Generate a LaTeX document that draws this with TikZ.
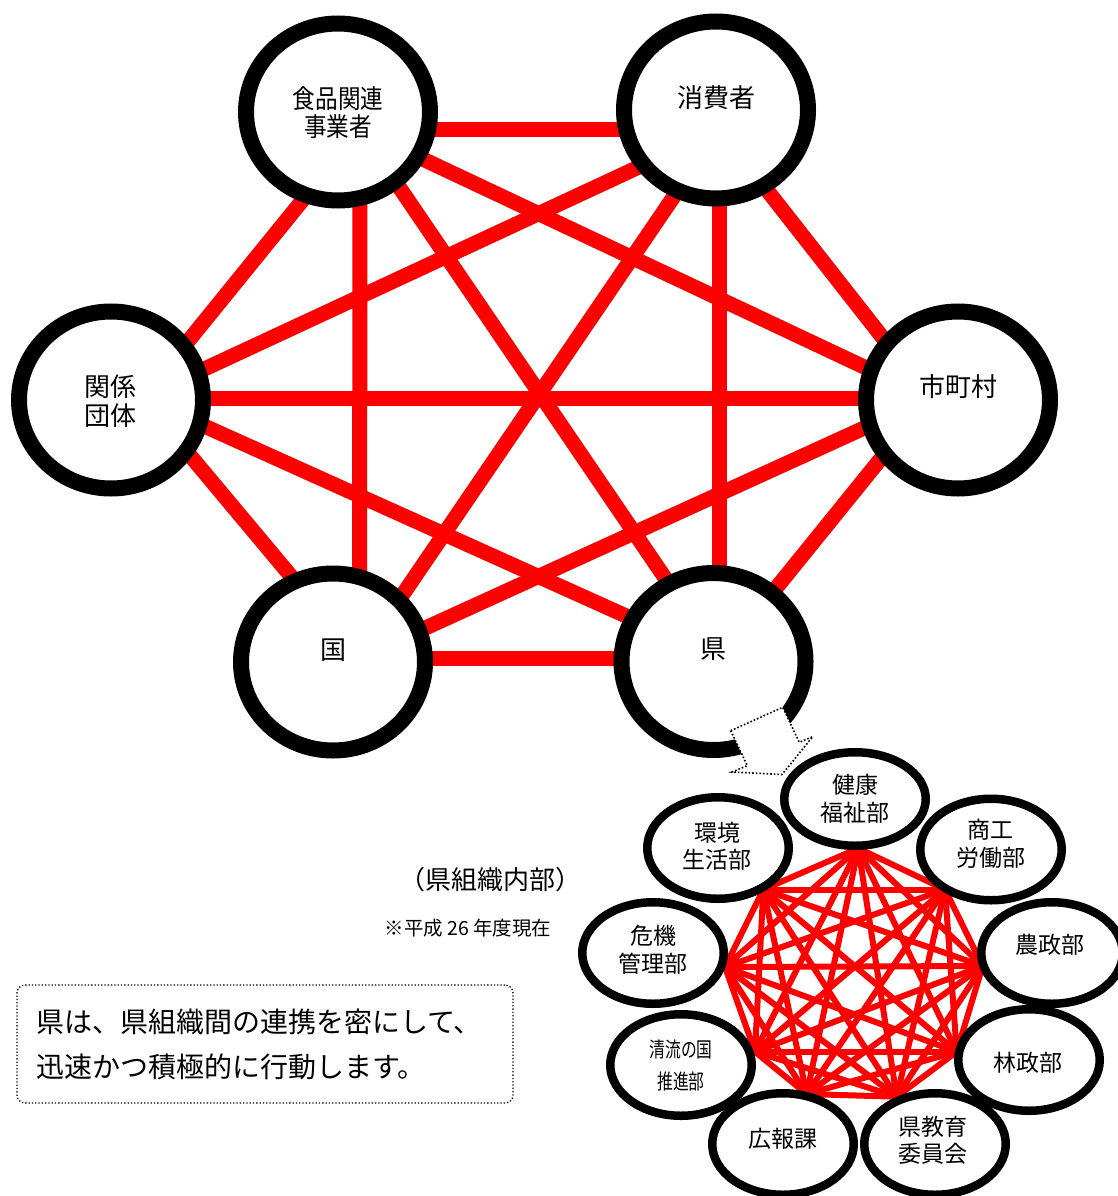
\documentclass[tikz,border=0pt]{standalone}
\usepackage{fontspec}
\setmainfont{Noto Sans CJK JP}
\newfontfamily\narrowfont[FakeStretch=0.87]{Noto Sans CJK JP}
\newfontfamily\slimfont[FakeStretch=0.75]{Noto Sans CJK JP}
\usetikzlibrary{shapes.geometric}
\tikzstyle{ring}=[ellipse, draw, fill=white, line width=16pt, minimum width=184pt, minimum height=177pt, inner sep=0pt]
\tikzstyle{oval}=[ellipse, draw, fill=white, line width=8.5pt, minimum width=141.5pt, minimum height=101.5pt, inner sep=0pt]
\tikzstyle{link}=[red, line width=15pt]
\tikzstyle{wire}=[red, line width=6pt]
\tikzstyle{biglabel}=[align=center, inner sep=0pt, font=\fontsize{26}{29}\selectfont]
\tikzstyle{smalllabel}=[align=center, inner sep=0pt, font=\fontsize{23}{27.5}\selectfont]

\begin{document}
\begin{tikzpicture}[x=1pt, y=-1pt]
\useasboundingbox (0,0) rectangle (1118,1196);
% Corners of the hexagon
    \coordinate (pShoku) at (360,129.5);
    \coordinate (pShohi) at (719.5,129.5);
    \coordinate (pShi) at (930,398);
    \coordinate (pKen) at (719.5,658);
    \coordinate (pKuni) at (359.5,658);
    \coordinate (pDantai) at (142,398);
% Links between partners
    \draw[link] (pShoku) -- (pShohi);
    \draw[link] (pShoku) -- (pShi);
    \draw[link] (pShoku) -- (pKen);
    \draw[link] (pShoku) -- (pKuni);
    \draw[link] (pShoku) -- (pDantai);
    \draw[link] (pShohi) -- (pShi);
    \draw[link] (pShohi) -- (pKen);
    \draw[link] (pShohi) -- (pKuni);
    \draw[link] (pShohi) -- (pDantai);
    \draw[link] (pShi) -- (pKen);
    \draw[link] (pShi) -- (pKuni);
    \draw[link] (pShi) -- (pDantai);
    \draw[link] (pKen) -- (pKuni);
    \draw[link] (pKen) -- (pDantai);
    \draw[link] (pKuni) -- (pDantai);
% Partners
    \node[ring] (shoku) at (338,112) {};
    \node[ring] (shohi) at (716,110) {};
    \node[ring] (shi) at (958,400) {};
    \node[ring] (ken) at (713.5,661.5) {};
    \node[ring] (kuni) at (333,662) {};
    \node[ring] (dantai) at (111,400) {};
    \node[biglabel, font={\narrowfont\fontsize{26}{28}\selectfont}] (shokuText) at (338,113) {食品関連\\事業者};
    \node[biglabel] (shohiText) at (716,98) {消費者};
    \node[biglabel] (shiText) at (958,387) {市町村};
    \node[biglabel] (kenText) at (713,649.5) {県};
    \node[biglabel] (kuniText) at (333,650) {国};
    \node[biglabel] (dantaiText) at (110.5,401) {関係\\団体};
% Zoom arrow
    \draw[dotted, line width=1.6pt, fill=white] (730.7,730.7) -- (782.7,707.3) -- (799.3,742.3)
        -- (812.7,736.7) -- (782,774.5) -- (732,772) -- (747.3,765.7) -- cycle;
% Corners of the nonagon
    \coordinate (v1) at (858.3,848.3);
    \coordinate (v2) at (945,889.5);
    \coordinate (v3) at (982.7,966);
    \coordinate (v4) at (956.7,1051.7);
    \coordinate (v5) at (896.7,1096.7);
    \coordinate (v6) at (806.7,1094);
    \coordinate (v7) at (755,1051.7);
    \coordinate (v8) at (725,967);
    \coordinate (v9) at (763.3,889.5);
% Links between departments
    \draw[wire] (v1) -- (v2);
    \draw[wire] (v1) -- (v3);
    \draw[wire] (v1) -- (v4);
    \draw[wire] (v1) -- (v5);
    \draw[wire] (v1) -- (v6);
    \draw[wire] (v1) -- (v7);
    \draw[wire] (v1) -- (v8);
    \draw[wire] (v1) -- (v9);
    \draw[wire] (v2) -- (v3);
    \draw[wire] (v2) -- (v4);
    \draw[wire] (v2) -- (v5);
    \draw[wire] (v2) -- (v6);
    \draw[wire] (v2) -- (v7);
    \draw[wire] (v2) -- (v8);
    \draw[wire] (v2) -- (v9);
    \draw[wire] (v3) -- (v4);
    \draw[wire] (v3) -- (v5);
    \draw[wire] (v3) -- (v6);
    \draw[wire] (v3) -- (v7);
    \draw[wire] (v3) -- (v8);
    \draw[wire] (v3) -- (v9);
    \draw[wire] (v4) -- (v5);
    \draw[wire] (v4) -- (v6);
    \draw[wire] (v4) -- (v7);
    \draw[wire] (v4) -- (v8);
    \draw[wire] (v4) -- (v9);
    \draw[wire] (v5) -- (v6);
    \draw[wire] (v5) -- (v7);
    \draw[wire] (v5) -- (v8);
    \draw[wire] (v5) -- (v9);
    \draw[wire] (v6) -- (v7);
    \draw[wire] (v6) -- (v8);
    \draw[wire] (v6) -- (v9);
    \draw[wire] (v7) -- (v8);
    \draw[wire] (v7) -- (v9);
    \draw[wire] (v8) -- (v9);
% Departments
    \node[oval, minimum height=93.5pt] (kenko) at (855,799) {};
    \node[oval] (shoko) at (991,849.5) {};
    \node[oval] (nosei) at (1052,953) {};
    \node[oval] (rinsei) at (1029,1060) {};
    \node[oval] (kyoiku) at (935,1144) {};
    \node[oval] (koho) at (783,1144) {};
    \node[oval] (seiryu) at (681,1065) {};
    \node[oval] (kiki) at (653,953) {};
    \node[oval] (kankyo) at (718,848) {};
    \node[smalllabel] (kenkoText) at (855,799) {健康\\福祉部};
    \node[smalllabel] (shokoText) at (990.5,844) {商工\\労働部};
    \node[smalllabel] (noseiText) at (1050,945) {農政部};
    \node[smalllabel] (rinseiText) at (1028,1063) {林政部};
    \node[smalllabel] (kyoikuText) at (933,1140.5) {県教育\\委員会};
    \node[smalllabel] (kohoText) at (783,1139) {広報課};
    \node[smalllabel, font={\slimfont\fontsize{21}{32}\selectfont}] (seiryuText) at (681,1066) {清流の国\\推進部};
    \node[smalllabel] (kikiText) at (653,949.5) {危機\\管理部};
    \node[smalllabel] (kankyoText) at (717,846.5) {環境\\生活部};
% Notes
    \node[font=\fontsize{26}{30}\selectfont, inner sep=0pt] (inner) at (490,880) {（県組織内部）};
    \node[font=\fontsize{19.5}{23}\selectfont, inner sep=0pt] (asof) at (468,928) {※平成 26 年度現在};
    \node[draw, dotted, line width=1.3pt, rounded corners=8pt, minimum width=496pt, minimum height=118pt,
        text width=458pt, align=left, inner xsep=19pt, font=\fontsize{28}{45}\selectfont] (note) at (265,1044)
        {県は、県組織間の連携を密にして、\\迅速かつ積極的に行動します。};
\end{tikzpicture}
\end{document}
